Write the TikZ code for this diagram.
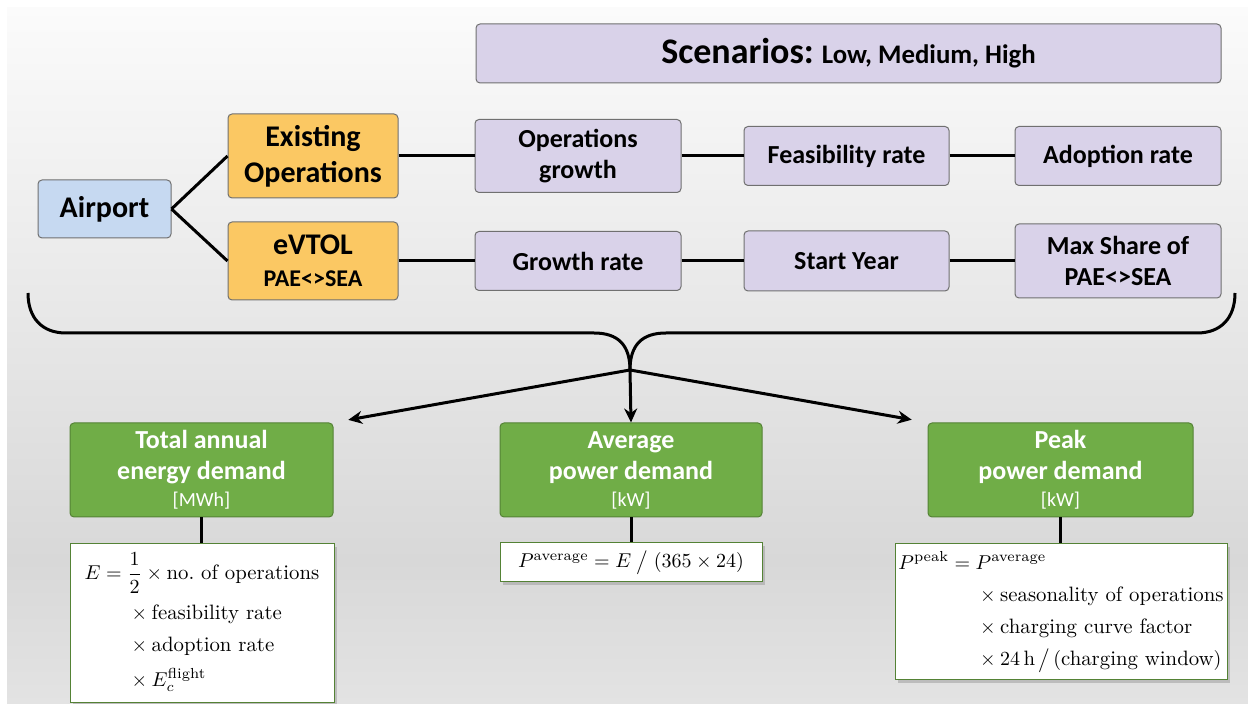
\documentclass[tikz,border=0pt]{standalone}
\usepackage{amsmath}
\usepackage{fontspec}
\newfontfamily\calfont{Carlito}
\usetikzlibrary{arrows.meta,shadows}
\definecolor{scenpurple}{RGB}{217,210,233}
\definecolor{boxgray}{RGB}{112,112,112}
\definecolor{airblue}{RGB}{198,217,241}
\definecolor{opsorange}{RGB}{251,200,99}
\definecolor{demgreen}{RGB}{112,173,71}
\definecolor{demdark}{RGB}{84,130,53}
\definecolor{bgtop}{RGB}{251,251,251}
\definecolor{bgmid}{RGB}{216,216,216}
\definecolor{bgbot}{RGB}{227,227,227}
\setlength{\jot}{3.5pt}

\begin{document}
\begin{tikzpicture}[x=0.5pt, y=-0.5pt,
  box/.style={rectangle, rounded corners=2pt, draw=boxgray, line width=0.5pt, align=center, inner sep=1pt},
  parambox/.style={box, fill=scenpurple, minimum width=103pt, minimum height=29.5pt, font=\calfont\bfseries\fontsize{13}{15.5}\selectfont},
  opsbox/.style={box, fill=opsorange, minimum width=85pt, font=\calfont\bfseries\fontsize{15}{18}\selectfont},
  demandbox/.style={box, draw=demdark, fill=demgreen, text=white, minimum width=131.5pt, minimum height=47pt, font=\calfont\bfseries\fontsize{13}{15.5}\selectfont},
  eqbox/.style={rectangle, draw=demdark, line width=0.5pt, fill=white, inner sep=1pt, font=\fontsize{10.4}{12.5}\selectfont,
    drop shadow={shadow xshift=1.5pt, shadow yshift=-1.5pt, fill=black!40}},
  link/.style={line width=1.5pt, black},
  flow/.style={link, -{Stealth[length=7pt,width=6.5pt]}}]
\useasboundingbox (0,0) rectangle (1248,704);
% background
\fill[top color=bgtop, bottom color=bgmid] (7,8) rectangle (1248,561);
\fill[top color=bgmid, bottom color=bgbot] (7,560) rectangle (1248,704);
% Scenarios
\node[parambox, minimum width=372.5pt, font=\calfont\bfseries\fontsize{13.4}{16}\selectfont] (scen) at (848.5,53.5) {{\fontsize{18}{21}\selectfont Scenarios:} Low, Medium, High};
% Tree
\node[box, fill=airblue, minimum width=66.5pt, minimum height=29pt, font=\calfont\bfseries\fontsize{15}{18}\selectfont] (airport) at (104.5,209) {Airport};
\node[opsbox, minimum height=42pt] (exist) at (313,156) {Existing\\Operations};
\node[opsbox, minimum height=39pt] (evtol) at (313,261) {eVTOL\\[-2pt]{\fontsize{12}{14}\selectfont PAE<>SEA}};
% Row 1
\node[parambox, minimum height=36.5pt] (opgrow) at (578,156) {Operations\\growth};
\node[parambox, minimum width=102.5pt] (feas) at (846.5,156) {Feasibility rate};
\node[parambox] (adopt) at (1118,156) {Adoption rate};
% Row 2
\node[parambox] (grow) at (578,261) {Growth rate};
\node[parambox, minimum width=102.5pt, minimum height=30pt] (start) at (846.5,261) {Start Year};
\node[parambox, minimum height=37pt] (maxshare) at (1118,261) {Max Share of\\PAE<>SEA};
% tree links
\draw[link] (airport.east) -- (exist.west);
\draw[link] (airport.east) -- (evtol.west);
\draw[link] (exist.east) -- (opgrow.west);
\draw[link] (opgrow.east) -- (feas.west);
\draw[link] (feas.east) -- (adopt.west);
\draw[link] (evtol.east) -- (grow.west);
\draw[link] (grow.east) -- (start.west);
\draw[link] (start.east) -- (maxshare.west);
% Brace
\coordinate (bl) at (28,293);
\coordinate (br) at (1235,293);
\coordinate (tip) at (630,370);
\draw[link] (bl) .. controls (28,318) and (42,333) .. (66,333) -- (594,333) .. controls (618,333) and (630,345) .. (tip);
\draw[link] (br) .. controls (1235,318) and (1221,333) .. (1197,333) -- (666,333) .. controls (642,333) and (630,345) .. (tip);
% Demand boxes
\node[demandbox] (total) at (201.5,470) {Total annual\\energy demand\\[-2pt]{\normalfont\calfont\fontsize{10}{12}\selectfont [MWh]}};
\node[demandbox, minimum width=131pt] (avg) at (631,470) {Average\\power demand\\[-2pt]{\normalfont\calfont\fontsize{10}{12}\selectfont [kW]}};
\node[demandbox, minimum width=132.5pt] (peak) at (1060.5,470) {Peak\\power demand\\[-2pt]{\normalfont\calfont\fontsize{10}{12}\selectfont [kW]}};
\draw[flow, shorten >=7.5pt] (tip) -- (total.north east);
\draw[flow] (tip) -- (avg.north);
\draw[flow, shorten >=8pt] (tip) -- (peak.north west);
% Formulas
\node[eqbox, minimum width=132pt, minimum height=79.5pt] (eqE) at (202,623.5) {$\begin{aligned}
  E ={}& \frac{1}{2}\times\text{no.\ of operations}\\
  &\times\text{feasibility rate}\\
  &\times\text{adoption rate}\\
  &\times E_c^{\text{flight}}
\end{aligned}$};
\node[eqbox, minimum width=131pt, minimum height=19.5pt] (eqavg) at (631,562.5) {$P^{\text{average}} = E \;\big/\; (365\times 24)$};
\node[eqbox, minimum width=166pt, minimum height=68pt] (eqpeak) at (1061,612) {$\begin{aligned}
  P^{\text{peak}} ={}& P^{\text{average}}\\
  &\times\text{seasonality of operations}\\
  &\times\text{charging curve factor}\\
  &\times 24\,\text{h} \,\big/\, (\text{charging window})
\end{aligned}$};
\draw[link] (total.south) -- (total.south |- eqE.north);
\draw[link] (avg.south) -- (avg.south |- eqavg.north);
\draw[link] (peak.south) -- (peak.south |- eqpeak.north);
\end{tikzpicture}
\end{document}
